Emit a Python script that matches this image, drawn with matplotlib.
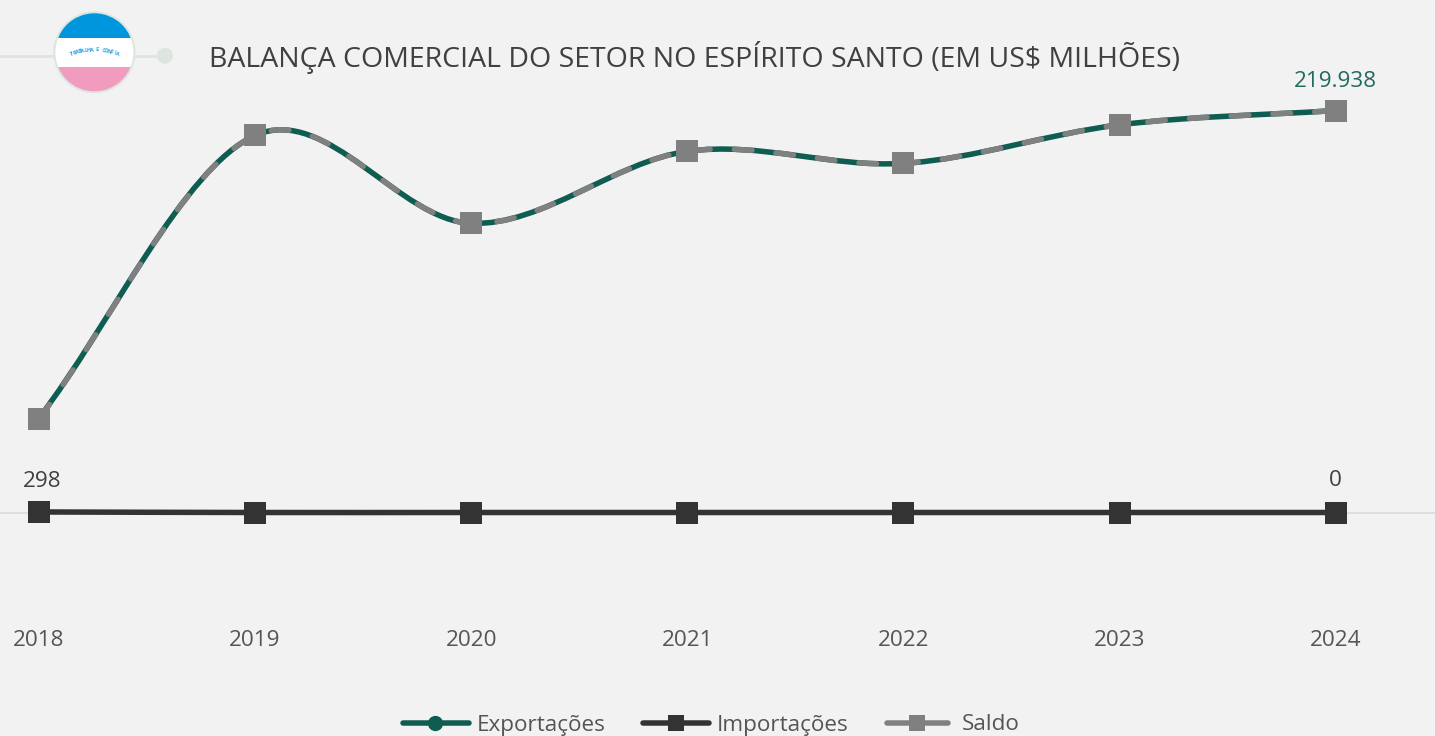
import numpy as np
import matplotlib
matplotlib.use('Agg')
import matplotlib.pyplot as plt
from matplotlib.path import Path
from matplotlib.patches import PathPatch, Circle, Rectangle

plt.rcParams['font.family'] = ['Open Sans', 'DejaVu Sans']

# data
anos = [2018, 2019, 2020, 2021, 2022, 2023, 2024]
exportacoes = [51700, 206300, 158200, 197600, 191000, 212100, 219938]
importacoes = [298, 0, 0, 0, 0, 0, 0]
saldo = [51402, 206300, 158200, 197600, 191000, 212100, 219938]
titulo = 'BALANÇA COMERCIAL DO SETOR NO ESPÍRITO SANTO (EM US$ MILHÕES)'
lema = 'TRABALHA E CONFIA'

BG = '#f2f2f2'
TEAL = '#0f5c50'
DARK = '#333333'
GREY = '#808080'
DECOR = '#dce5e0'
PX = 0.72  # points per pixel at dpi 100


def spline(xs, ys):
    # cardinal spline written as bezier segments
    verts = [(xs[0], ys[0])]
    codes = [Path.MOVETO]
    n = len(xs)
    for i in range(n - 1):
        a = max(i - 1, 0)
        b = min(i + 2, n - 1)
        t0 = (ys[i + 1] - ys[a]) / (xs[i + 1] - xs[a])
        t1 = (ys[b] - ys[i]) / (xs[b] - xs[i])
        h = (xs[i + 1] - xs[i]) / 3
        verts += [(xs[i] + h, ys[i] + t0 * h),
                  (xs[i + 1] - h, ys[i + 1] - t1 * h),
                  (xs[i + 1], ys[i + 1])]
        codes += [Path.CURVE4] * 3
    return Path(verts, codes)


fig = plt.figure(figsize=(14.35, 7.36), dpi=100, facecolor=BG)

# main axes, runs from the top of the figure down to y=615px
ax = fig.add_axes([0, 1 - 615 / 736, 1, 615 / 736], facecolor='none')
escala = 402 / 219938
ax.set_xlim(2018 - 39 / 216.1, 2018 + (1435 - 39) / 216.1)
ax.set_ylim(-102.5 / escala, 512.5 / escala)
for s in ax.spines.values():
    s.set_visible(False)
ax.set_xticks(anos)
ax.set_xticklabels([str(a) for a in anos])
ax.set_yticks([])
ax.tick_params(axis='x', length=0, pad=11, labelsize=16.2, labelcolor='#555555')

ax.axhline(0, color='#dedede', lw=1.5, zorder=1)

ax.add_patch(PathPatch(spline(anos, exportacoes), fc='none', ec=TEAL, lw=5.5 * PX,
                       capstyle='round', zorder=2))
ax.add_patch(PathPatch(spline(anos, importacoes), fc='none', ec=DARK, lw=5.5 * PX, zorder=3))
ax.plot(anos, importacoes, ls='', marker='s', ms=15.5, mew=0, color=DARK, zorder=3)
ax.add_patch(PathPatch(spline(anos, saldo), fc='none', ec=GREY, lw=5.5 * PX,
                       ls=(0, (3.2, 4.4)), capstyle='round', zorder=4))
ax.plot(anos, saldo, ls='', marker='s', ms=15.5, mew=0, color=GREY, zorder=5)

# data labels
ax.annotate('298', (anos[0], importacoes[0]), xytext=(2, 14.5), textcoords='offset points',
            ha='center', va='bottom', fontsize=16.2, color='#404040')
ax.annotate('0', (anos[-1], importacoes[-1]), xytext=(0, 15.5), textcoords='offset points',
            ha='center', va='bottom', fontsize=16.2, color='#404040')
ax.annotate('219.938', (anos[-1], exportacoes[-1]), xytext=(0, 13.5), textcoords='offset points',
            ha='center', va='bottom', fontsize=16.2, color='#1f6b5d')

# overlay in pixel coordinates for header and legend
ov = fig.add_axes([0, 0, 1, 1], facecolor='none')
ov.set_xlim(0, 1435)
ov.set_ylim(736, 0)
ov.axis('off')

ov.plot([0, 165], [55.7, 55.7], color=DECOR, lw=2, zorder=1)
ov.add_patch(Circle((165, 55.7), 8, fc=DECOR, ec='none', zorder=1))
ov.add_patch(Circle((94.4, 52.3), 41, fc=DECOR, ec='none', zorder=2))
disco = Circle((94.4, 52.3), 39, transform=ov.transData)
faixas = [(12, 26, '#0096de'), (38, 29, '#ffffff'), (67, 26, '#f19cbf')]
for topo, alt, cor in faixas:
    r = Rectangle((50, topo), 90, alt, fc=cor, ec='none', zorder=3)
    ov.add_patch(r)
    r.set_clip_path(disco)

# motto bent along an arc
n = len(lema)
for i, c in enumerate(lema):
    ang = np.radians((i - (n - 1) / 2) * 2.5)
    ov.text(94.5 + 66 * np.sin(ang), 116 - 66 * np.cos(ang), c, fontsize=4,
            fontweight='bold', color='#2aa5e6', ha='center', va='center',
            rotation=-np.degrees(ang), zorder=4)

ov.text(209, 57, titulo, fontsize=20.5, color='#404040', ha='left', va='center')

# legend
itens = [(403, 469, 435, 477, 'Exportações', TEAL, 'o'),
         (643, 709, 676, 717, 'Importações', DARK, 's'),
         (887, 948, 917, 962, 'Saldo', GREY, 's')]
for x0, x1, xm, xt, nome, cor, mk in itens:
    ov.plot([x0, x1], [723, 723], color=cor, lw=5.5 * PX, solid_capstyle='round')
    ov.plot([xm], [723], marker=mk, ms=11, mew=0, color=cor)
    ov.text(xt, 725, nome, fontsize=16.2, color='#555555', ha='left', va='center')

plt.savefig('out.png', dpi=100, facecolor=BG)
